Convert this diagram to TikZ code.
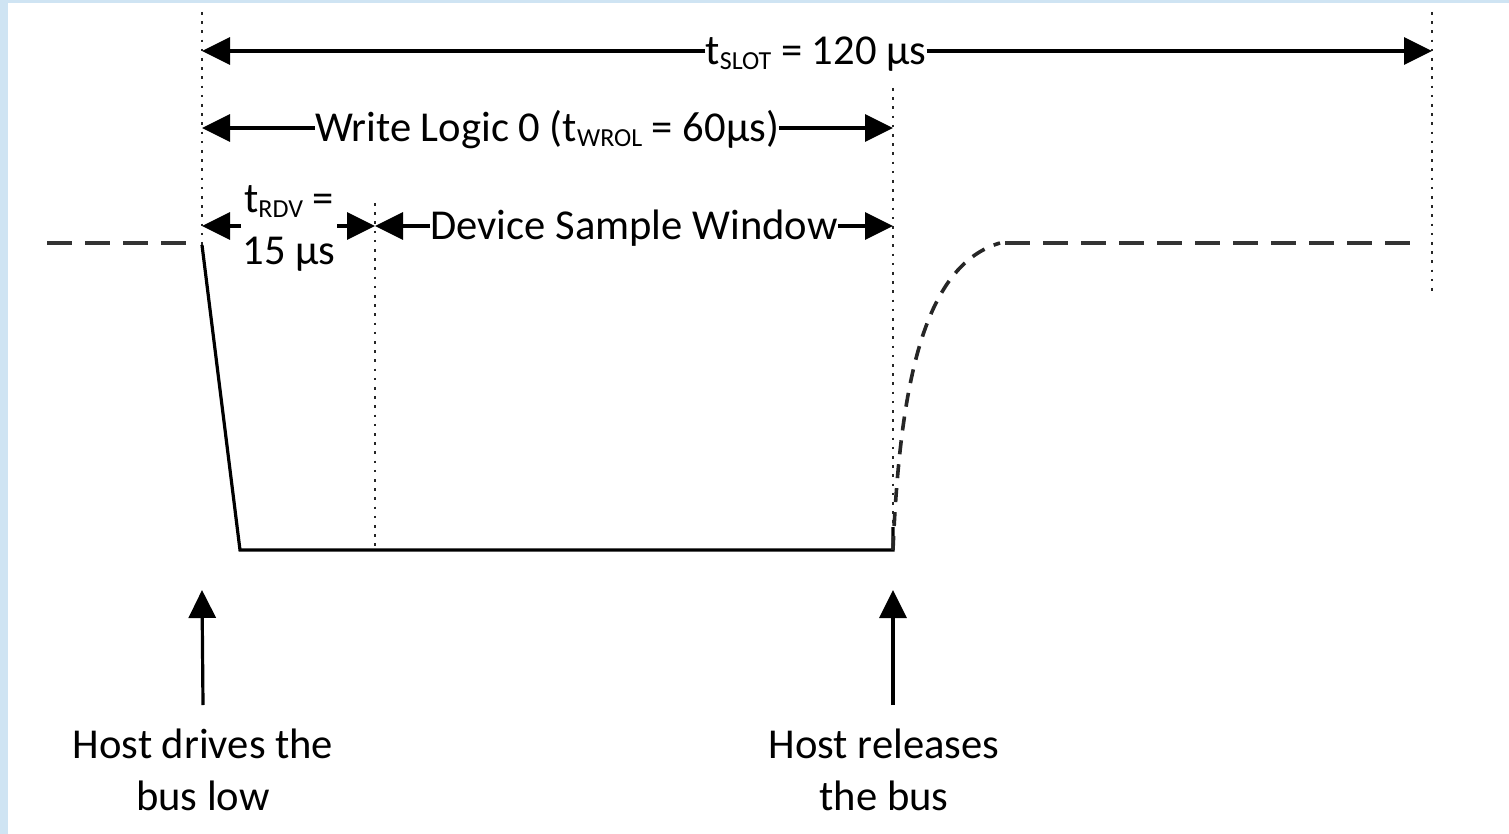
\documentclass[tikz,border=0pt]{standalone}
\usepackage{fontspec}
\setmainfont{Carlito}
\usetikzlibrary{arrows.meta}
\definecolor{edgeblue}{RGB}{207,228,243}
\newcommand\subtxt[1]{\raisebox{-5pt}{\fontsize{26}{26}\selectfont #1}}
\begin{document}
\begin{tikzpicture}[x=1pt,y=-1pt,
  lbl/.style={font=\fontsize{42.6}{52}\selectfont, inner sep=0pt, text=black},
  tip/.style={line width=3.2pt, -{Triangle[length=28pt,width=27pt]}},
  guide/.style={line width=2.6pt, dash pattern=on 2.6pt off 6.6pt, black!85},
  wave/.style={line width=3.2pt, line join=miter},
  busdash/.style={line width=3.8pt, black!80, dash pattern=on 25pt off 13pt},
  risedash/.style={line width=3.6pt, black!85, dash pattern=on 14pt off 10pt},
]
% canvas and blue frame edge
\useasboundingbox (0,0) rectangle (1509,834);
\fill[white] (0,0) rectangle (1509,834);
\fill[edgeblue] (0,0) rectangle (8,834);
\fill[edgeblue] (0,0) rectangle (1509,3);

% time markers
\coordinate (g0a) at (202,12);   \coordinate (g0b) at (202,245);
\coordinate (g1a) at (375,203);  \coordinate (g1b) at (375,546);
\coordinate (g2a) at (893,88);   \coordinate (g2b) at (893,546);
\coordinate (g3a) at (1432,12);  \coordinate (g3b) at (1432,295);
\draw[guide] (g0a) -- (g0b);
\draw[guide] (g1a) -- (g1b);
\draw[guide] (g2a) -- (g2b);
\draw[guide] (g3a) -- (g3b);

% dimension: slot
\coordinate (slotL) at (202,51);
\coordinate (slotR) at (1432,51);
\node[lbl, anchor=base] (tslot) at (816,65)
  {t\subtxt{SLOT} = 120 µs};
\draw[tip] (tslot.west |- slotL) -- (slotL);
\draw[tip] (tslot.east |- slotR) -- (slotR);

% dimension: write logic 0
\coordinate (wrL) at (202,128);
\coordinate (wrR) at (893,128);
\node[lbl, anchor=base] (twrol) at (547,142)
  {Write Logic 0 (t\subtxt{WROL} = 60µs)};
\draw[tip] (twrol.west |- wrL) -- (wrL);
\draw[tip] (twrol.east |- wrR) -- (wrR);

% dimension: tRDV
\coordinate (rdvL) at (202,226);
\coordinate (rdvR) at (375,226);
\node[lbl, align=center, anchor=north] (trdv) at (289,185)
  {t\subtxt{RDV} =\\15 µs};
\draw[tip] (241,226) -- (rdvL);
\draw[tip] (337,226) -- (rdvR);

% dimension: sample window
\coordinate (dswL) at (375,226);
\coordinate (dswR) at (893,226);
\node[lbl, anchor=base] (dsw) at (634,240) {Device Sample Window};
\draw[tip] (dsw.west |- dswL) -- (dswL);
\draw[tip] (dsw.east |- dswR) -- (dswR);

% bus waveform
\coordinate (idleL0) at (47,243);
\coordinate (idleL1) at (190,243);
\coordinate (fallTop) at (202,245);
\coordinate (fallBot) at (240,550);
\coordinate (relBot) at (893,550);
\coordinate (relUp) at (893,527);
\coordinate (riseEnd) at (1000,243);
\coordinate (idleR0) at (1005,243);
\coordinate (idleR1) at (1420,243);
\draw[busdash] (idleL0) -- (idleL1);
\draw[wave] (fallTop) -- (fallBot) -- (relBot) -- (relUp);
\draw[risedash] (relBot) .. controls (900,380) and (925,265) .. (riseEnd);
\draw[busdash] (idleR0) -- (idleR1);

% event annotations
\node[lbl, align=center, anchor=north] (drv) at (203,729) {Host drives the\\bus low};
\node[lbl, align=center, anchor=north] (rel) at (884,729) {Host releases\\the bus};
\coordinate (drvTip) at (202,590);
\coordinate (relTip) at (893,590);
\draw[tip] (drv.north |- 0,705) -- (drvTip);
\draw[tip] (893,705) -- (relTip);
\end{tikzpicture}
\end{document}
